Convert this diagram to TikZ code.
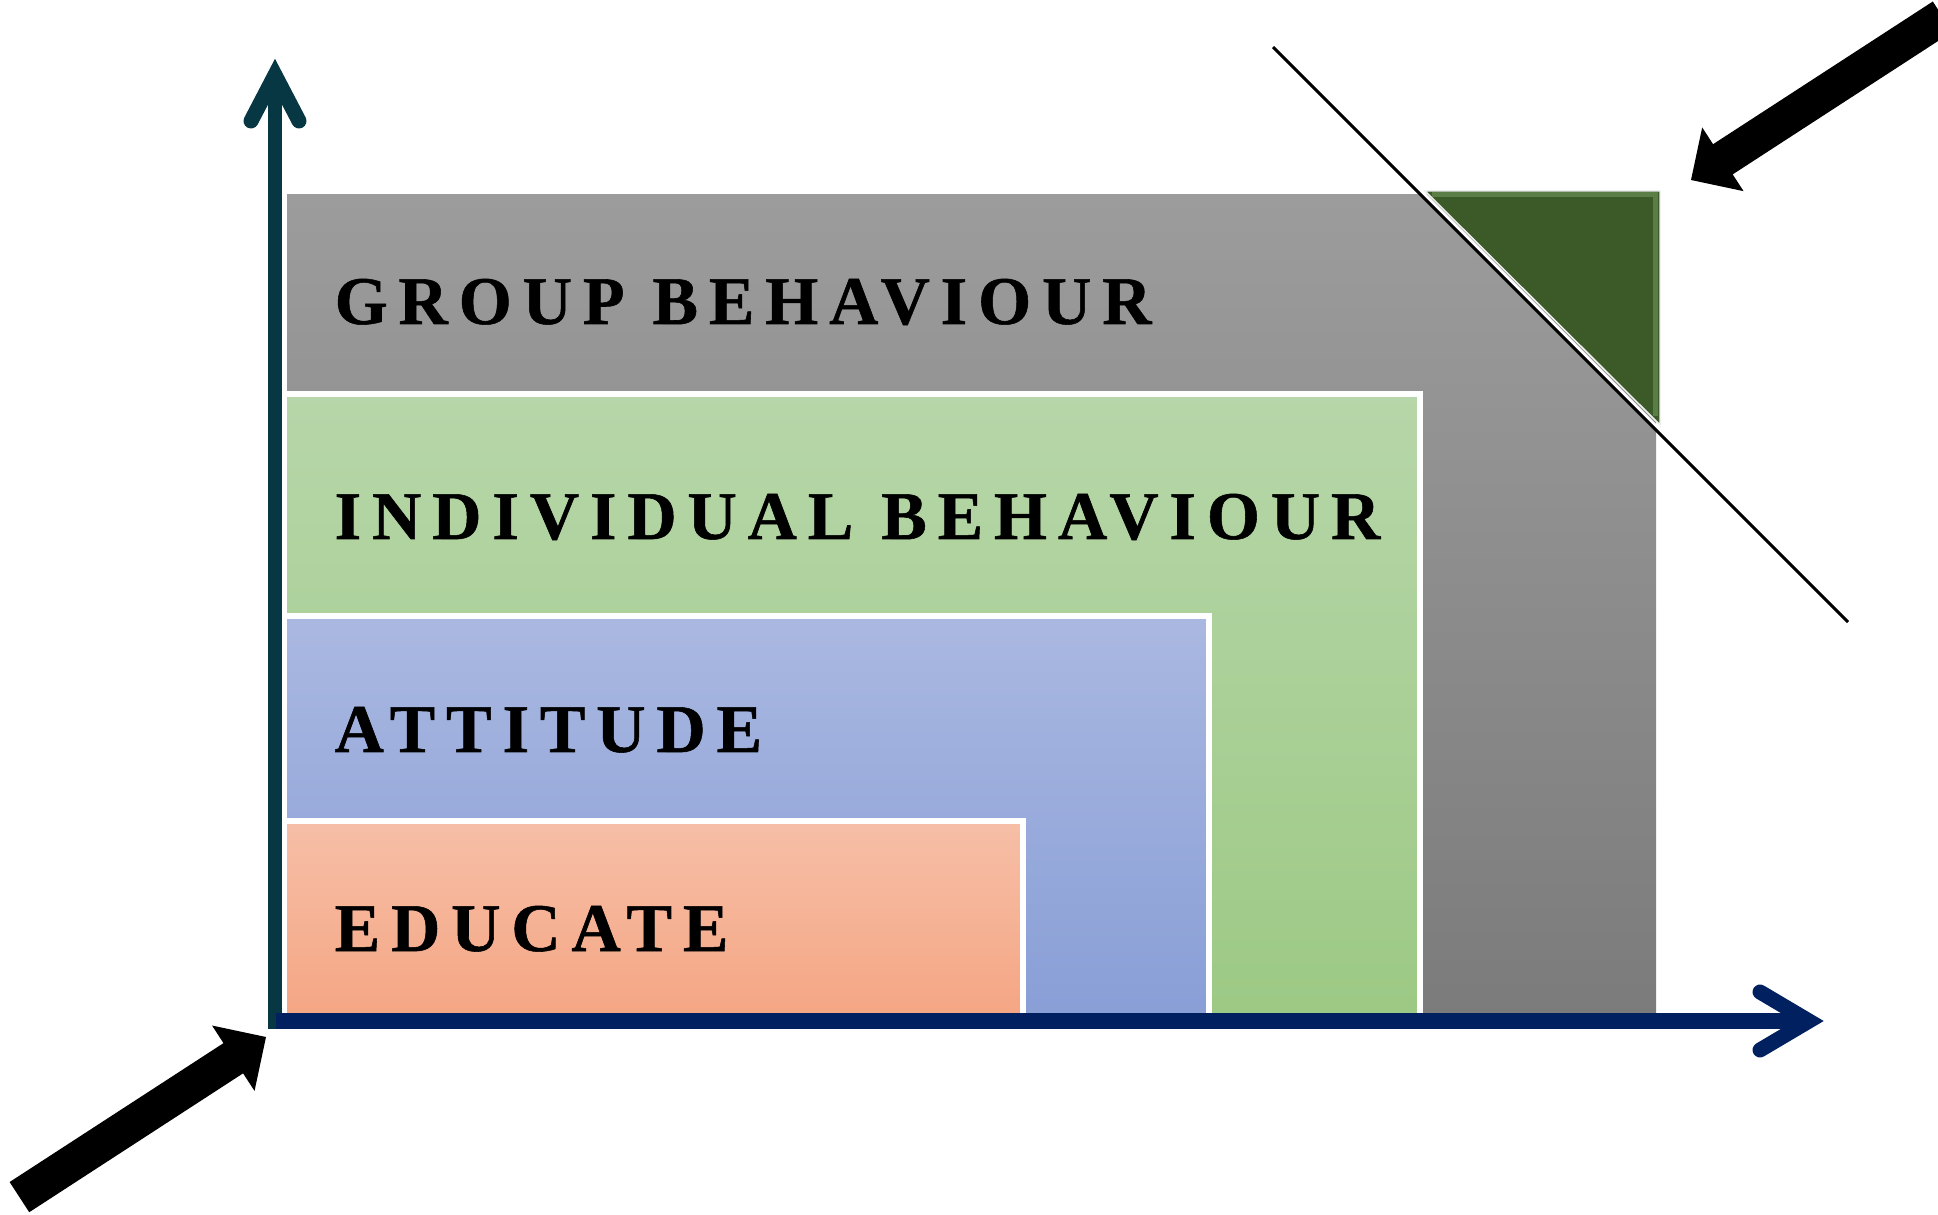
\documentclass[tikz,border=0pt]{standalone}
\usepackage{fontspec}
\newfontfamily\boxfont[LetterSpace=16,BoldFeatures={FakeBold=0.8}]{Liberation Serif}
\definecolor{axisteal}{HTML}{073743}
\definecolor{axisnavy}{HTML}{00205F}
\definecolor{grayTop}{HTML}{9C9C9C}
\definecolor{grayBot}{HTML}{7B7B7B}
\definecolor{greenTop}{HTML}{B7D6A9}
\definecolor{greenBot}{HTML}{9CC984}
\definecolor{blueTop}{HTML}{AAB8E1}
\definecolor{blueBot}{HTML}{889ED6}
\definecolor{orangeTop}{HTML}{F6BFA7}
\definecolor{orangeBot}{HTML}{F5A583}
\definecolor{cornergreen}{HTML}{3C5A28}
\definecolor{cornerrim}{HTML}{5A7E45}
\begin{document}
\begin{tikzpicture}[x=0.1mm,y=-0.1mm,
  box/.style={draw=white,line width=0.6mm},
  lbl/.style={anchor=base west,inner sep=0pt,font=\boxfont\bfseries\fontsize{19.4}{23}\selectfont},
  chev/.style={line width=1.5mm,line cap=round,line join=miter},
  blockarrow/.style={fill=black}]
\useasboundingbox (0,0) rectangle (1938,1215);
\clip (0,0) rectangle (1938,1215);
% nested boxes
\shade[top color=grayTop,bottom color=grayBot] (287,195) rectangle (1656,1021);
\shadedraw[box,top color=greenTop,bottom color=greenBot] (284,394) rectangle (1420,1021);
\shadedraw[box,top color=blueTop,bottom color=blueBot] (284,616) rectangle (1209,1021);
\shadedraw[box,top color=orangeTop,bottom color=orangeBot] (284,821) rectangle (1023,1021);
% cut corner
\filldraw[fill=cornergreen,draw=white!88!gray,line width=0.15mm] (1425,191) -- (1660,191) -- (1660,425) -- cycle;
\draw[cornerrim,line width=0.5mm] (1432,195) -- (1655,195) -- (1655,416);
\draw[white,line width=0.45mm] (1419,190) -- (1661,432);
\draw[black,line width=0.3mm] (1273,47) -- (1848,622);
% axes
\draw[axisteal,line width=1.4mm] (275,1029) -- (275,78);
\draw[axisteal,chev] (251,121) -- (275,75) -- (299,121);
\draw[axisnavy,line width=1.6mm] (276,1021) -- (1809,1021);
\draw[axisnavy,chev] (1760,992) -- (1809,1021) -- (1760,1050);
% block arrows
\begin{scope}[shift={(266,1037)},rotate=33]
\fill[blockarrow] (0,0) -- (-39,39) -- (-39,18) -- (-294,18) -- (-294,-18) -- (-39,-18) -- (-39,-39) -- cycle;
\end{scope}
\begin{scope}[shift={(1691,180)},rotate=213]
\fill[blockarrow] (0,0) -- (-38,38) -- (-38,18) -- (-300,18) -- (-300,-18) -- (-38,-18) -- (-38,-38) -- cycle;
\end{scope}
% labels
\node[lbl] (grp) at (334,324) {GROUP BEHAVIOUR};
\node[lbl] (ind) at (334,539) {INDIVIDUAL BEHAVIOUR};
\node[lbl] (att) at (334,752) {ATTITUDE};
\node[lbl] (edu) at (334,951) {EDUCATE};
\end{tikzpicture}
\end{document}
